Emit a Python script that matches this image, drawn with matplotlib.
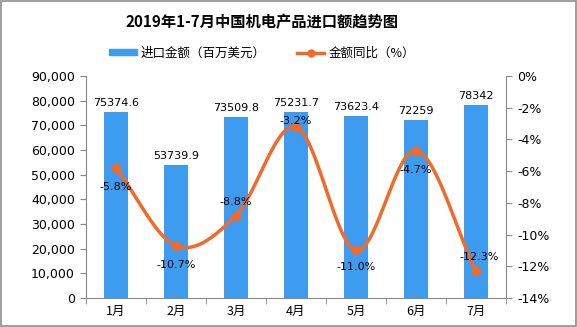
import numpy as np
import matplotlib
matplotlib.use("Agg")
import matplotlib.pyplot as plt
from matplotlib.lines import Line2D
from matplotlib.patches import Patch, Rectangle

plt.rcParams['font.family'] = ['Noto Sans CJK SC', 'DejaVu Sans']

months = ['1月', '2月', '3月', '4月', '5月', '6月', '7月']
import_value = [75374.6, 53739.9, 73509.8, 75231.7, 73623.4, 72259, 78342]
import_value_labels = ['75374.6', '53739.9', '73509.8', '75231.7', '73623.4', '72259', '78342']
yoy_pct = [-5.8, -10.7, -8.8, -3.2, -11.0, -4.7, -12.3]

title = '2019年1-7月中国机电产品进口额趋势图'
bar_name = '进口金额（百万美元）'
line_name = '金额同比（%）'

BAR_COLOR = '#3d9cf0'
LINE_COLOR = '#ef6a2b'


def catmull_rom(xs, ys, n=40, tension=0.5):
    """Smooth curve through the points (cardinal spline)."""
    xs = np.asarray(xs, float)
    ys = np.asarray(ys, float)
    px = np.concatenate([[2 * xs[0] - xs[1]], xs, [2 * xs[-1] - xs[-2]]])
    py = np.concatenate([[2 * ys[0] - ys[1]], ys, [2 * ys[-1] - ys[-2]]])
    out_x, out_y = [], []
    t = np.linspace(0, 1, n)
    for i in range(1, len(px) - 2):
        p0, p1, p2, p3 = (np.array([px[j], py[j]]) for j in (i - 1, i, i + 1, i + 2))
        m1 = tension * (p2 - p0)
        m2 = tension * (p3 - p1)
        h00 = 2 * t**3 - 3 * t**2 + 1
        h10 = t**3 - 2 * t**2 + t
        h01 = -2 * t**3 + 3 * t**2
        h11 = t**3 - t**2
        pts = (np.outer(h00, p1) + np.outer(h10, m1) + np.outer(h01, p2) + np.outer(h11, m2))
        out_x.extend(pts[:, 0])
        out_y.extend(pts[:, 1])
    return np.array(out_x), np.array(out_y)


fig = plt.figure(figsize=(5.77, 3.27), dpi=100)
fig.patches.append(Rectangle((0.001, 0.002), 0.997, 0.995, transform=fig.transFigure,
                             fill=False, edgecolor='#8c8c8c', linewidth=1.2))

ax = fig.add_axes([86 / 577, 1 - 298 / 327, 420 / 577, 222 / 327])
x = np.arange(len(months))
ax.bar(x, import_value, width=0.4, color=BAR_COLOR, zorder=2)
ax.set_xlim(-0.5, len(months) - 0.5)
ax.set_ylim(0, 90000)
ax.set_yticks(np.arange(0, 90001, 10000))
ax.set_yticklabels([f'{v:,}' for v in range(0, 90001, 10000)], fontsize=9, family='DejaVu Sans')
ax.set_xticks(x)
ax.set_xticklabels(months, fontsize=9)
ax.set_xticks(np.arange(-0.5, len(months)), minor=True)
ax.tick_params(axis='x', which='major', length=0, pad=5)
ax.tick_params(axis='x', which='minor', length=4, color='#888888')
ax.tick_params(axis='y', length=4, color='#888888', pad=4)
for s in ['top', 'right']:
    ax.spines[s].set_visible(False)
for s in ['left', 'bottom']:
    ax.spines[s].set_color('#888888')

for xi, v, lab in zip(x, import_value, import_value_labels):
    ax.annotate(lab, (xi, v), xytext=(0, 3), textcoords='offset points',
                ha='center', va='bottom', fontsize=8, family='DejaVu Sans')

ax2 = ax.twinx()
ax2.set_ylim(-14, 0)
ax2.set_yticks(np.arange(-14, 1, 2))
ax2.set_yticklabels([f'{v}%' for v in range(-14, 1, 2)], fontsize=9, family='DejaVu Sans')
ax2.tick_params(axis='y', length=4, color='#888888', pad=4)
for s in ['top', 'left', 'bottom']:
    ax2.spines[s].set_visible(False)
ax2.spines['right'].set_color('#888888')

sx, sy = catmull_rom(x, yoy_pct)
ax2.plot(sx, sy, color=LINE_COLOR, linewidth=2.5, zorder=3, solid_capstyle='round')
ax2.plot(x, yoy_pct, 'o', color=LINE_COLOR, markersize=6, zorder=4)

label_offsets = [(0, -14), (0, -14), (0, 10), (0, 4), (0, -12), (0, -14), (2, 10)]
for xi, v, (dx, dy) in zip(x, yoy_pct, label_offsets):
    ax2.annotate(f'{v}%', (xi, v), xytext=(dx, dy), textcoords='offset points',
                 ha='center', va='center', fontsize=8, family='DejaVu Sans', zorder=5)

fig.text(262 / 577, 1 - 22 / 327, title, ha='center', va='center', fontsize=11, fontweight='bold')

handles = [Patch(color=BAR_COLOR),
           Line2D([0], [0], color=LINE_COLOR, linewidth=2.5, marker='o', markersize=5)]
fig.legend(handles, [bar_name, line_name], loc='center', bbox_to_anchor=(262 / 577, 1 - 53 / 327),
           ncol=2, frameon=False, fontsize=9, handlelength=2.2, handleheight=0.4,
           columnspacing=2.5, handletextpad=0.3)

fig.savefig('out.png', dpi=100)
